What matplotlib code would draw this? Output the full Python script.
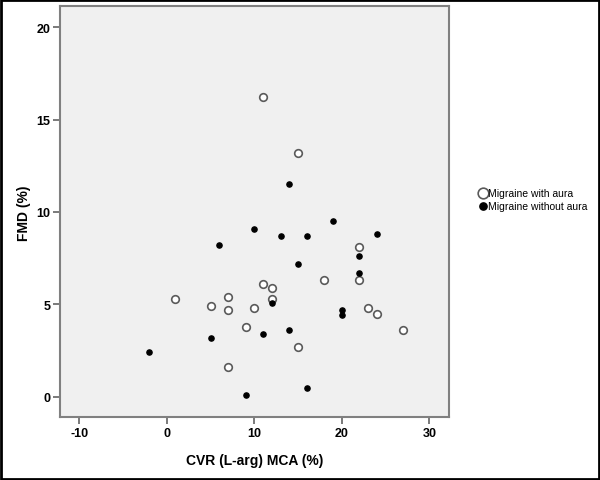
import numpy as np
import matplotlib.pyplot as plt
from matplotlib.patches import Rectangle

plt.rcParams['font.family'] = ['Liberation Sans', 'DejaVu Sans']
plt.rcParams['axes.unicode_minus'] = False

# migraine with aura (open circles)
aura_x = [11, 15, 11, 12, 1, 7, 12, 5, 7, 10, 9, 15, 7, 22, 22, 18, 23, 24, 27]
aura_y = [16.2, 13.2, 6.1, 5.9, 5.3, 5.4, 5.3, 4.9, 4.7, 4.8, 3.8, 2.7, 1.6, 8.1, 6.3, 6.3, 4.8, 4.5, 3.6]

# migraine without aura (filled)
noaura_x = [-2, 14, 10, 13, 16, 6, 15, 12, 11, 14, 5, 9, 16, 19, 24, 22, 22, 20, 20]
noaura_y = [2.4, 11.5, 9.1, 8.7, 8.7, 8.2, 7.2, 5.1, 3.4, 3.6, 3.2, 0.1, 0.5, 9.5, 8.8, 7.6, 6.7, 4.7, 4.4]

xticks = [-10, 0, 10, 20, 30]
yticks = [0, 5, 10, 15, 20]

fig = plt.figure(figsize=(6, 4.81), dpi=100)
ax = fig.add_axes([0.1005, 0.1304, 0.647, 0.8544])
ax.set_facecolor('#f0f0f0')

h1 = ax.scatter(aura_x, aura_y, s=30, facecolors='white', edgecolors='#5a5a5a',
                linewidths=1.2, zorder=3)
h2 = ax.scatter(noaura_x, noaura_y, s=14, color='black', zorder=3)

ax.set_xlim(-12.15, 32.17)
ax.set_ylim(-1.11, 21.13)
ax.set_xticks(xticks)
ax.set_yticks(yticks)
ax.tick_params(direction='out', length=5, width=1.3, color='#707070',
               labelsize=9, pad=2)
for lab in ax.get_xticklabels() + ax.get_yticklabels():
    lab.set_fontweight('bold')
for sp in ax.spines.values():
    sp.set_color('#808080')
    sp.set_linewidth(1.5)

ax.set_xlabel('CVR (L-arg) MCA (%)', fontsize=10, fontweight='bold', labelpad=10)
ax.set_ylabel('FMD (%)', fontsize=10, fontweight='bold', labelpad=4)

fig.legend([h1, h2], ['Migraine with aura', 'Migraine without aura'],
           loc='upper left', bbox_to_anchor=(0.8, 0.608), frameon=False,
           fontsize=7.5, markerscale=1.4, handlelength=0.6, handletextpad=0.2,
           labelspacing=0.3, borderpad=0, borderaxespad=0)

# outer border
fig.add_artist(Rectangle((0.002, 0.002), 0.996, 0.996, transform=fig.transFigure,
                         fill=False, edgecolor='black', linewidth=2))

fig.savefig('out.png', dpi=100)
